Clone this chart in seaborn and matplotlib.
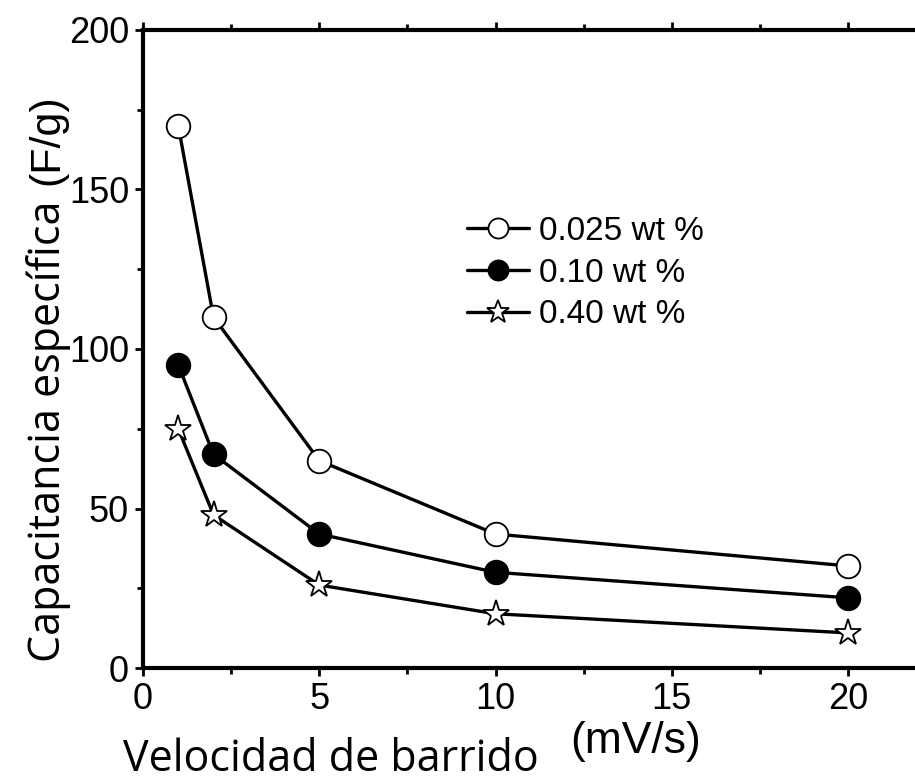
import matplotlib
matplotlib.use("Agg")
import matplotlib.pyplot as plt
import seaborn as sns
import pandas as pd
from matplotlib.ticker import MultipleLocator

sns.set_theme(style="ticks")
plt.rcParams['font.family'] = ['Liberation Sans', 'DejaVu Sans']

rate = [1, 2, 5, 10, 20]
cap_0025 = [170, 110, 65, 42, 32]
cap_010 = [95, 67, 42, 30, 22]
cap_040 = [75, 48, 26, 17, 11]
labels = ["0.025 wt %", "0.10 wt %", "0.40 wt %"]
x_ticks = [0, 5, 10, 15, 20]
y_ticks = [0, 50, 100, 150, 200]

W, H = 915, 782
fig = plt.figure(figsize=(W/100, H/100), dpi=100)
ax = fig.add_axes([143/W, (H-668)/H, (918.5-143)/W, (668-30)/H])

series = [(cap_0025, 'o', 'white', 17), (cap_010, 'o', 'black', 17), (cap_040, '*', 'white', 20)]
for (vals, mk, fc, ms), lab in zip(series, labels):
    df = pd.DataFrame({"x": rate, "y": vals})
    sns.lineplot(data=df, x="x", y="y", ax=ax, color="black", linewidth=2.4,
                 marker=mk, markersize=ms, markerfacecolor=fc, markeredgecolor="black",
                 markeredgewidth=1.3, label=lab)

ax.set_xlim(0, 22)
ax.set_ylim(0, 200)
ax.set_xticks(x_ticks)
ax.set_yticks(y_ticks)
ax.xaxis.set_minor_locator(MultipleLocator(2.5))
ax.yaxis.set_minor_locator(MultipleLocator(25))
ax.tick_params(axis='both', which='major', labelsize=26, width=2, length=6,
               direction='out', pad=4, colors='black', labelcolor='black')
ax.tick_params(axis='both', which='minor', width=2, length=4, direction='out', colors='black')
ax.tick_params(top=True, right=True, which='both')
for spine in ax.spines.values():
    spine.set_linewidth(3)
    spine.set_color('black')
ax.set_xlabel("")
ax.set_ylabel("")

leg = ax.legend(loc='upper left', bbox_to_anchor=(467/W, 1-216/H), bbox_transform=fig.transFigure,
                frameon=False, fontsize=24, handlelength=1.85, handletextpad=0.3,
                labelspacing=0.32, borderaxespad=0, borderpad=0, markerscale=0.85)
for t in leg.get_texts():
    t.set_color('black')

fig.text(60/W, 1-431/H, "Capacitancia específica", rotation=90, rotation_mode='anchor',
         ha='center', va='baseline', fontsize=31, color='black',
         family=['Open Sans', 'DejaVu Sans'])
fig.text(58/W, 1-140/H, "(F/g)", rotation=90, rotation_mode='anchor',
         ha='center', va='baseline', fontsize=31, color='black')
fig.text(331/W, 1-771/H, "Velocidad de barrido", ha='center', va='baseline',
         fontsize=31, color='black', family=['Open Sans', 'DejaVu Sans'])
fig.text(636/W, 1-741/H, "(mV/s)", ha='center', va='center', fontsize=32, color='black')

fig.savefig("out.png", dpi=100)
